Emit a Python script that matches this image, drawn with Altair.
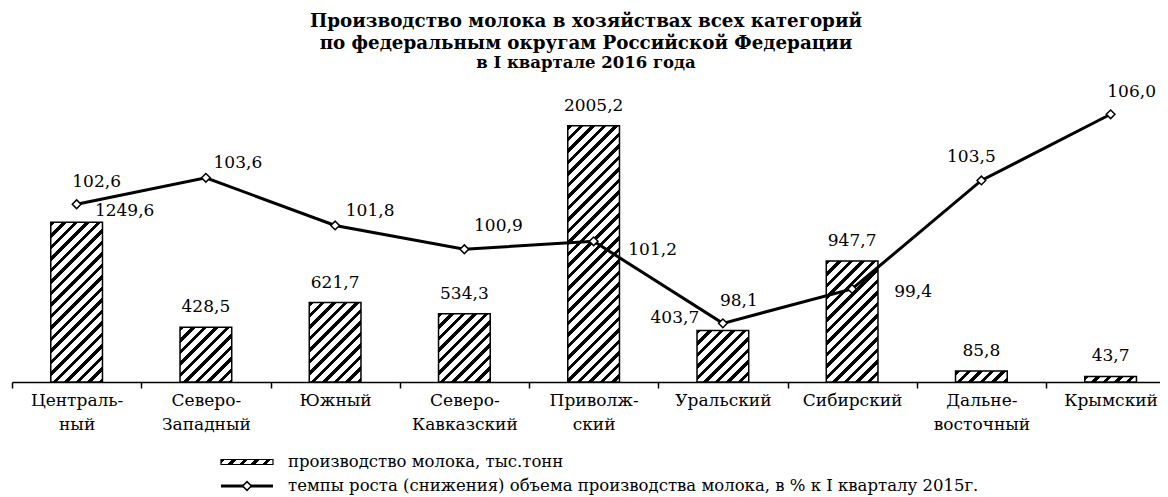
import altair as alt
import pandas as pd

# ---- data -------------------------------------------------------------
districts = ["Центральный", "Северо-Западный", "Южный", "Северо-Кавказский",
             "Приволжский", "Уральский", "Сибирский", "Дальневосточный", "Крымский"]
axis_labels = ["Централь-|ный", "Северо-|Западный", "Южный", "Северо-|Кавказский",
               "Приволж-|ский", "Уральский", "Сибирский", "Дальне-|восточный", "Крымский"]
production = [1249.6, 428.5, 621.7, 534.3, 2005.2, 403.7, 947.7, 85.8, 43.7]
growth = [102.6, 103.6, 101.8, 100.9, 101.2, 98.1, 99.4, 103.5, 106.0]

title_lines = ["Производство молока в хозяйствах всех категорий",
               "по федеральным округам Российской Федерации"]
subtitle_line = "в I квартале 2016 года"
legend_texts = ["производство молока, тыс.тонн",
                "темпы роста (снижения) объема производства молока, в % к I кварталу 2015г."]

# ---- label nudges (pixels) -------------------------------------------
bar_label_offsets = {"Центральный": (48, -11), "Уральский": (-48, -12)}
line_label_offsets = {
    "Центральный": (20, -22), "Северо-Западный": (32, -15), "Южный": (35, -14),
    "Северо-Кавказский": (34, -23), "Приволжский": (59, 9), "Уральский": (16, -22),
    "Сибирский": (61, 3), "Дальневосточный": (-10, -23), "Крымский": (21, -22),
}

df = pd.DataFrame({
    "district": districts,
    "label": axis_labels,
    "production": production,
    "growth": growth,
})
df["prod_txt"] = [f"{v:.1f}".replace(".", ",") for v in production]
df["growth_txt"] = [f"{v:.1f}".replace(".", ",") for v in growth]

# ---- layout constants -------------------------------------------------
PLOT_W = 1148
PLOT_H = 282
STEP = 129.25
RANGE_W = STEP * len(districts)
BAR_BAND = 0.4
BAR_W = STEP * BAR_BAND
BAR_MAX = 2206.6
LINE_DOMAIN = [95.883, 106.54]
FONT = "DejaVu Serif"
FS = 17


def hatch(w, h, period=11.5, black=4.5):
    """Diagonal '/' stripes as a hard-stop linear gradient for a w x h box."""
    total = w + h
    c = total / (w * w + h * h)
    stops = []
    pos = 0.0
    while pos < total:
        a = pos / total
        b = min((pos + black) / total, 1.0)
        e = min((pos + period) / total, 1.0)
        stops += [{"offset": a, "color": "black"}, {"offset": b, "color": "black"},
                  {"offset": b, "color": "white"}, {"offset": e, "color": "white"}]
        pos += period
    return {"gradient": "linear", "x1": 0, "y1": 0, "x2": c * w, "y2": c * h,
            "stops": stops}


x_scale = alt.Scale(range=[0, RANGE_W], paddingInner=0, paddingOuter=0)
x_axis = alt.Axis(title=None, labelExpr="split(datum.label, '|')", labelAngle=0,
                  labelFont=FONT, labelFontSize=FS, labelColor="black",
                  labelLineHeight=24, labelPadding=4, tickBand="extent",
                  tickSize=6, tickWidth=1.5, tickColor="black",
                  domainColor="black", domainWidth=1.5, grid=False,
                  labelOverlap=False)
x_enc = alt.X("label:N", sort=axis_labels, scale=x_scale, axis=x_axis)
yb = alt.Y("production:Q", scale=alt.Scale(domain=[0, BAR_MAX], nice=False, zero=True), axis=None)
yl = alt.Y("growth:Q", scale=alt.Scale(domain=LINE_DOMAIN, nice=False, zero=False), axis=None)

base = alt.Chart(df)
layers = []

# bars, each with its own hatch sized to its pixel box
for name, val in zip(districts, production):
    h = val * PLOT_H / BAR_MAX
    layers.append(
        base.transform_filter(alt.FieldEqualPredicate(field="district", equal=name))
        .mark_bar(width=alt.RelativeBandSize(BAR_BAND), fill=hatch(BAR_W, h),
                  stroke="black", strokeWidth=1.5)
        .encode(x=x_enc, y=yb)
    )

# bar value labels
for name in districts:
    dx, dy = bar_label_offsets.get(name, (0, -20))
    layers.append(
        base.transform_filter(alt.FieldEqualPredicate(field="district", equal=name))
        .mark_text(font=FONT, fontSize=FS, color="black", align="center",
                   baseline="middle", dx=dx, dy=dy)
        .encode(x=x_enc, y=yb, text="prod_txt:N")
    )

# growth line + diamonds
layers.append(base.mark_line(color="black", strokeWidth=3).encode(x=x_enc, y=yl))
layers.append(base.mark_point(shape="diamond", size=75, filled=True, fill="white",
                              stroke="black", strokeWidth=1.5, opacity=1)
              .encode(x=x_enc, y=yl))

# growth labels
for name in districts:
    dx, dy = line_label_offsets[name]
    layers.append(
        base.transform_filter(alt.FieldEqualPredicate(field="district", equal=name))
        .mark_text(font=FONT, fontSize=FS, color="black", align="center",
                   baseline="middle", dx=dx, dy=dy)
        .encode(x=x_enc, y=yl, text="growth_txt:N")
    )

# ---- manual legend ----------------------------------------------------
leg1 = pd.DataFrame({"t": [legend_texts[0]]})
leg2 = pd.DataFrame({"t": [legend_texts[1]]})
SW_X0, SW_X1 = 209, 261
L1_Y, L2_Y = 362, 386
LEG_FS = 16.5
layers.append(alt.Chart(leg1).mark_rect(fill=hatch(SW_X1 - SW_X0, 5), stroke="black",
                                         strokeWidth=1.2)
              .encode(x=alt.value(SW_X0), x2=alt.value(SW_X1),
                      y=alt.value(L1_Y - 2.5), y2=alt.value(L1_Y + 2.5)))
layers.append(alt.Chart(leg1).mark_text(font=FONT, fontSize=LEG_FS, color="black",
                                         align="left", baseline="middle")
              .encode(x=alt.value(276), y=alt.value(L1_Y), text="t:N"))
layers.append(alt.Chart(leg2).mark_rule(color="black", strokeWidth=3)
              .encode(x=alt.value(SW_X0), x2=alt.value(SW_X1), y=alt.value(L2_Y)))
layers.append(alt.Chart(leg2).mark_point(shape="diamond", size=75, filled=True, fill="white",
                                          stroke="black", strokeWidth=1.5, opacity=1)
              .encode(x=alt.value((SW_X0 + SW_X1) / 2), y=alt.value(L2_Y)))
layers.append(alt.Chart(leg2).mark_text(font=FONT, fontSize=LEG_FS, color="black",
                                         align="left", baseline="middle")
              .encode(x=alt.value(276), y=alt.value(L2_Y), text="t:N"))

chart = (
    alt.layer(*layers)
    .resolve_scale(y="independent")
    .properties(
        width=PLOT_W, height=PLOT_H,
        autosize=alt.AutoSizeParams(type="none"),
        padding={"left": 4, "top": 92, "right": 0, "bottom": 115},
        title=alt.TitleParams(
            text=title_lines, subtitle=subtitle_line, anchor="middle",
            font=FONT, fontSize=18.3, fontWeight="bold", color="black", lineHeight=22,
            subtitleFont=FONT, subtitleFontSize=16.5, subtitleFontWeight="bold",
            subtitleColor="black", subtitlePadding=1, offset=11,
        ),
    )
    .configure_view(stroke=None)
)

chart.save("out.html", embed_options={"renderer": "svg", "actions": False})
